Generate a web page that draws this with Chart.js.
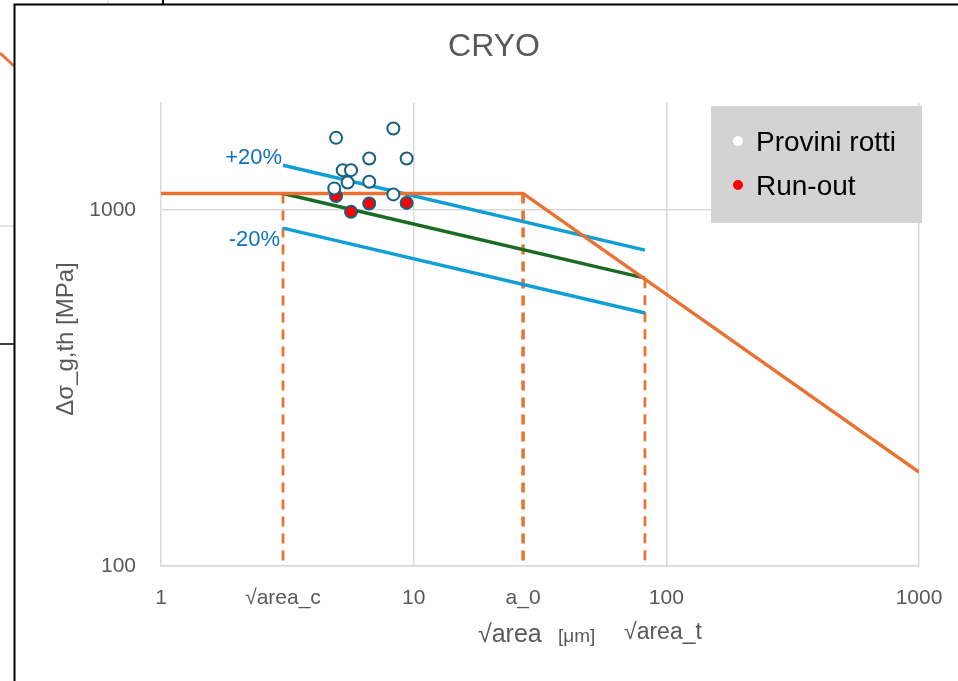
<!DOCTYPE html>
<html>
<head>
<meta charset="utf-8">
<script src="https://cdn.jsdelivr.net/npm/chart.js@4.4.1/dist/chart.umd.min.js"></script>
<style>
  html, body { margin: 0; padding: 0; background: #fff; }
  #wrap { width: 958px; height: 681px; position: relative; }
</style>
</head>
<body>
<div id="wrap"><canvas id="cryoChart"></canvas></div>
<script>
// characteristic defect sizes on the x axis
const specialX = [3.04, 27.1, 82.3];
const xTicks = [1, 3.04, 10, 27.1, 100, 1000];
const xTickLabels = ['1', '√area_c', '10', 'a_0', '100', '1000'];
const yTicks = [100, 1000];

// threshold curve: plateau then El Haddad slope
const thresholdX = [1, 27.1, 1000];
const thresholdY = [1114, 1114, 183.6];
// Murakami line and the +/-20% band
const murakamiX = [3.04, 82.3];
const murakamiY = [1114, 644];
const upperY = [1337, 772];
const lowerY = [890, 514];
// top of the dashed limit lines (they go down to 100)
const limitTopY = [1114, 1114, 644];

// specimens
const brokenX = [4.93, 8.31, 6.67, 9.38, 5.24, 5.65, 5.48, 6.67, 4.85, 8.31];
const brokenY = [1596, 1696, 1397, 1397, 1295, 1295, 1196, 1201, 1151, 1107];
const runoutX = [4.93, 5.65, 6.67, 9.38];
const runoutY = [1095, 989, 1044, 1048];

const pts = (xs, ys) => xs.map((x, i) => ({ x: x, y: ys[i] }));

const ORANGE = '#E97132';
const BLUE = '#0F9ED5';
const GREEN = '#196B24';
const TEXT = '#595959';
const GRID = '#D9D9D9';
const FONT = "'Liberation Sans', Arial, sans-serif";

const lineDs = (data, color, width, order) => ({
    data: data, borderColor: color, borderWidth: width, showLine: true,
    pointRadius: 0, fill: false, order: order
});

const datasets = [
    {
        label: 'Provini rotti', data: pts(brokenX, brokenY), order: 0,
        pointRadius: 6, pointBackgroundColor: '#fff', pointBorderColor: '#156082', pointBorderWidth: 2
    },
    {
        label: 'Run-out', data: pts(runoutX, runoutY), order: 0,
        pointRadius: 6, pointBackgroundColor: '#FF0000', pointBorderColor: '#156082', pointBorderWidth: 2
    },
    lineDs(pts(murakamiX, upperY), BLUE, 3.5, 2),
    lineDs(pts(murakamiX, lowerY), BLUE, 3.5, 2),
    lineDs(pts(murakamiX, murakamiY), GREEN, 3.5, 2),
    lineDs(pts(thresholdX, thresholdY), ORANGE, 3.5, 1)
];
specialX.forEach((sx, i) => {
    const d = lineDs([{ x: sx, y: limitTopY[i] }, { x: sx, y: 100 }], ORANGE, i === 1 ? 3.5 : 2.75, 3);
    d.borderDash = [10, 7];
    datasets.push(d);
});

// frame, title, axis titles, annotations and legend drawn on the canvas
const decor = {
    id: 'decor',
    beforeDraw(chart) {
        const c = chart.ctx;
        c.save();
        c.fillStyle = '#fff';
        c.fillRect(0, 0, chart.width, chart.height);
        // bits of the neighbouring sheet objects
        c.lineWidth = 3; c.strokeStyle = ORANGE;
        c.beginPath(); c.moveTo(0, 53); c.lineTo(14, 66); c.stroke();
        c.lineWidth = 1.5; c.strokeStyle = GRID;
        c.beginPath(); c.moveTo(0, 226); c.lineTo(14, 226); c.stroke();
        c.beginPath(); c.moveTo(108, 0); c.lineTo(108, 4); c.stroke();
        c.strokeStyle = '#000';
        c.beginPath(); c.moveTo(0, 344); c.lineTo(14, 344); c.stroke();
        c.lineWidth = 2;
        c.beginPath(); c.moveTo(163, 0); c.lineTo(163, 4); c.stroke();
        // chart frame
        c.beginPath(); c.moveTo(14.5, 681); c.lineTo(14.5, 4.5); c.lineTo(958, 4.5); c.stroke();
        c.restore();
    },
    afterDraw(chart) {
        const c = chart.ctx;
        const xs = chart.scales.x, ys = chart.scales.y;
        const area = chart.chartArea;
        c.save();
        c.fillStyle = TEXT;
        c.textBaseline = 'middle';
        // title
        c.font = '32px ' + FONT;
        c.textAlign = 'center';
        c.fillText('CRYO', 494, 47);
        // y title
        c.save();
        c.translate(66, 339);
        c.rotate(-Math.PI / 2);
        c.font = '24px ' + FONT;
        c.fillText('Δσ_g,th [MPa]', 0, 0);
        c.restore();
        // x title
        c.textAlign = 'left';
        c.font = '25px ' + FONT;
        c.fillText('√area', 478, 635);
        c.font = '19px ' + FONT;
        c.fillText('[μm]', 558, 637);
        // label of the transition size
        c.textAlign = 'center';
        c.font = '23px ' + FONT;
        c.fillText('√area_t', xs.getPixelForValue(specialX[2]) + 18, 633);
        // band labels
        c.fillStyle = '#1170C0';
        c.textAlign = 'right';
        c.font = '22px ' + FONT;
        c.fillText('+20%', xs.getPixelForValue(murakamiX[0]) - 1, ys.getPixelForValue(upperY[0]) - 7);
        c.fillText('-20%', xs.getPixelForValue(murakamiX[0]) - 3, ys.getPixelForValue(lowerY[0]) + 12);
        // legend
        const lx = area.right - 208, ly = area.top + 3;
        c.fillStyle = '#D3D3D3';
        c.fillRect(lx, ly, 211, 117);
        const items = [['Provini rotti', '#fff', 35], ['Run-out', '#FF0000', 79]];
        c.textAlign = 'left';
        c.font = '28px ' + FONT;
        items.forEach(([txt, col, dy]) => {
            c.fillStyle = col;
            c.beginPath(); c.arc(lx + 27, ly + dy, 5, 0, Math.PI * 2); c.fill();
            c.fillStyle = '#000';
            c.fillText(txt, lx + 45, ly + dy + 2);
        });
        c.restore();
    }
};

const ctx = document.getElementById('cryoChart').getContext('2d');
const cryoChart = new Chart(ctx, {
    type: 'scatter',
    data: { datasets: datasets },
    options: {
        responsive: true,
        maintainAspectRatio: false,
        animation: false,
        layout: { padding: { top: 103, right: 39, left: 0, bottom: 0 } },
        scales: {
            x: {
                type: 'logarithmic', min: 1, max: 1000,
                afterBuildTicks: (s) => { s.ticks = xTicks.map(v => ({ value: v })); },
                afterFit: (s) => { s.height = 115; s.paddingLeft = 0; s.paddingRight = 0; },
                ticks: {
                    autoSkip: false, maxRotation: 0, padding: 20,
                    color: TEXT, font: { family: FONT, size: 21 },
                    callback: (v, i) => xTickLabels[i]
                },
                grid: {
                    drawTicks: false, lineWidth: 1.5,
                    color: (c) => (c.tick && !specialX.includes(c.tick.value) && c.tick.value !== 1) ? GRID : 'rgba(0,0,0,0)'
                },
                border: { color: GRID, width: 1.5 }
            },
            y: {
                type: 'logarithmic', min: 100, max: 2000,
                afterBuildTicks: (s) => { s.ticks = yTicks.map(v => ({ value: v })); },
                afterFit: (s) => { s.width = 161; s.paddingTop = 0; s.paddingBottom = 0; },
                ticks: {
                    padding: 25, color: TEXT, font: { family: FONT, size: 21 },
                    callback: (v) => String(v)
                },
                grid: { drawTicks: false, lineWidth: 1.5, color: GRID },
                border: { color: GRID, width: 1.5 }
            }
        },
        plugins: {
            legend: { display: false },
            tooltip: { enabled: false },
            title: { display: false }
        }
    },
    plugins: [decor]
});
</script>
</body>
</html>
